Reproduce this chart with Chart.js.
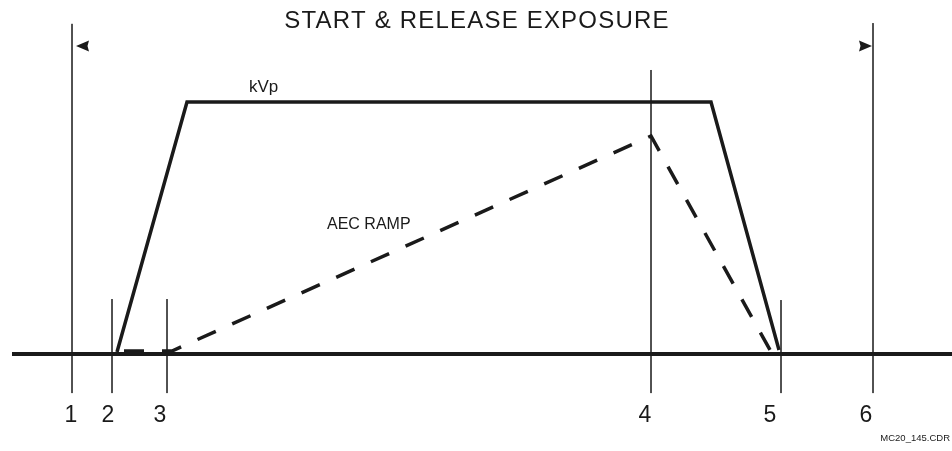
<!DOCTYPE html>
<html>
<head>
<meta charset="utf-8">
<script src="https://cdn.jsdelivr.net/npm/chart.js@4/dist/chart.umd.min.js"></script>
<style>
  html, body { margin: 0; padding: 0; background: #fff; }
  #wrap { width: 952px; height: 451px; position: relative; }
</style>
</head>
<body>
<div id="wrap"><canvas id="chart"></canvas></div>
<script>
// time axis (arbitrary units) and signal level (0 = off, 100 = full kVp)
const eventLabels = ['1', '2', '3', '4', '5', '6'];
const eventTimes = [72, 112, 167, 651, 781, 873];
const eventTops = [131, 21.8, 21.8, 112.7, 21.4, 131.3];
const eventBottom = -15.5;
const eventLabelTimes = [71, 108, 160, 645, 770, 866];

const kvpTimes = [117, 187, 711, 779];
const kvpLevels = [0.8, 100, 100, 1.6];

const aecTimes = [124, 172, 651, 770];
const aecLevels = [1.2, 1.2, 86.5, 1.6];

const baseTimes = [12, 952];
const baseLevels = [0, 0];

const arrowTimes = [76, 872];
const arrowDirs = [-1, 1];
const arrowLevel = 122.2;

const toPts = (xs, ys) => xs.map((x, i) => ({ x: x, y: ys[i] }));

const datasets = [
  { data: toPts(baseTimes, baseLevels), borderColor: '#1a1a1a', borderWidth: 4 },
  { data: toPts(kvpTimes, kvpLevels), borderColor: '#1a1a1a', borderWidth: 3.5, borderJoinStyle: 'miter' },
  { data: toPts(aecTimes, aecLevels), borderColor: '#1a1a1a', borderWidth: 3.5, borderDash: [20, 18] },
];
eventTimes.forEach((t, i) => {
  datasets.push({
    data: [{ x: t, y: eventTops[i] }, { x: t, y: eventBottom }],
    borderColor: '#3a3a3a',
    borderWidth: 1,
  });
});
datasets.forEach(d => { d.showLine = true; d.pointRadius = 0; d.fill = false; d.tension = 0; });

const labelsPlugin = {
  id: 'labels',
  afterDatasetsDraw(chart) {
    const ctx = chart.ctx;
    const xs = chart.scales.x, ys = chart.scales.y;
    ctx.save();
    ctx.fillStyle = '#1a1a1a';

    // title
    ctx.font = '24px "Liberation Sans", Arial, sans-serif';
    ctx.letterSpacing = '1.2px';
    ctx.textAlign = 'center';
    ctx.textBaseline = 'middle';
    ctx.fillText('START & RELEASE EXPOSURE', xs.getPixelForValue(477), ys.getPixelForValue(132.1));
    ctx.letterSpacing = '0px';

    // event numbers
    ctx.font = '23px "Liberation Sans", Arial, sans-serif';
    ctx.textBaseline = 'alphabetic';
    eventLabels.forEach((l, i) => {
      ctx.fillText(l, xs.getPixelForValue(eventLabelTimes[i]), ys.getPixelForValue(-27));
    });

    // curve labels
    ctx.font = '17px "Liberation Sans", Arial, sans-serif';
    ctx.textAlign = 'left';
    ctx.fillText('kVp', xs.getPixelForValue(249), ys.getPixelForValue(104));
    ctx.font = '16px "Liberation Sans", Arial, sans-serif';
    ctx.fillText('AEC RAMP', xs.getPixelForValue(327), ys.getPixelForValue(49.6));

    ctx.font = '9.5px "Liberation Sans", Arial, sans-serif';
    ctx.textAlign = 'right';
    ctx.fillText('MC20_145.CDR', xs.getPixelForValue(950), ys.getPixelForValue(-34.5));

    // start / release arrows
    arrowTimes.forEach((t, i) => {
      const px = xs.getPixelForValue(t), py = ys.getPixelForValue(arrowLevel);
      const d = arrowDirs[i];
      ctx.beginPath();
      ctx.moveTo(px, py);
      ctx.lineTo(px - d * 13, py - 5.5);
      ctx.lineTo(px - d * 11.5, py);
      ctx.lineTo(px - d * 13, py + 5.5);
      ctx.closePath();
      ctx.fill();
    });
    ctx.restore();
  }
};

new Chart(document.getElementById('chart'), {
  type: 'scatter',
  data: { datasets: datasets },
  options: {
    responsive: true,
    maintainAspectRatio: false,
    animation: false,
    layout: { padding: 0 },
    plugins: { legend: { display: false }, tooltip: { enabled: false }, title: { display: false } },
    scales: {
      x: { type: 'linear', min: 0, max: 952, display: false },
      y: { type: 'linear', min: -38.49, max: 140.476, display: false },
    },
  },
  plugins: [labelsPlugin],
});
</script>
</body>
</html>
